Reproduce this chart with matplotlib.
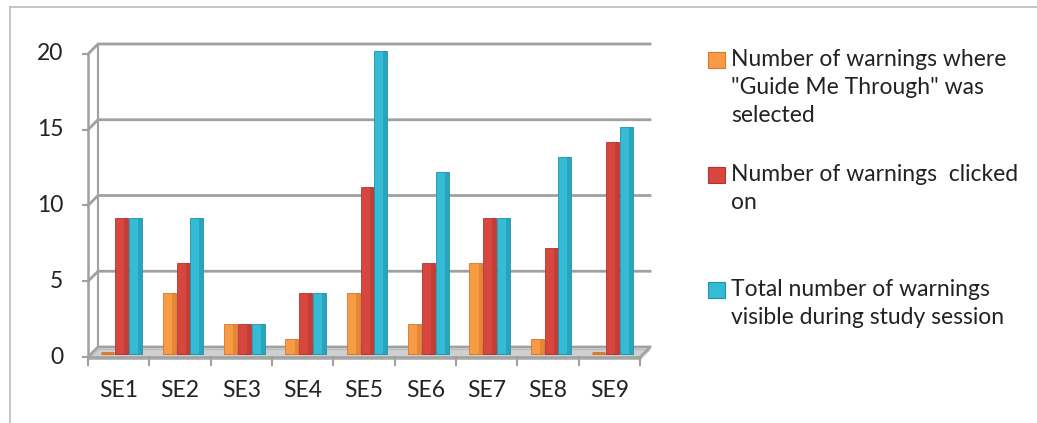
import matplotlib
matplotlib.use("Agg")
import matplotlib.pyplot as plt
import numpy as np
from matplotlib.patches import Polygon, Rectangle
from matplotlib.lines import Line2D

categories = ["SE1", "SE2", "SE3", "SE4", "SE5", "SE6", "SE7", "SE8", "SE9"]
guide_me = [0, 4, 2, 1, 4, 2, 6, 1, 0]
clicked = [9, 6, 2, 4, 11, 6, 9, 7, 14]
total = [9, 9, 2, 4, 20, 12, 9, 13, 15]
series_labels = [
    'Number of warnings where\n"Guide Me Through" was\nselected',
    "Number of warnings  clicked\non",
    "Total number of warnings\nvisible during study session",
]
yticks = [0, 5, 10, 15, 20]

colors = ["#F79B45", "#D8473F", "#36BBD5"]
dark = ["#D9772A", "#B0352F", "#1E93AB"]

plt.rcParams["font.family"] = ["Lato", "DejaVu Sans"]
FS = 16.5
W, H = 1037, 423
fig = plt.figure(figsize=(W / 100, H / 100), dpi=100)
x0, x1, ytop, ybot = 88, 640, 54, 357
ax = fig.add_axes([x0 / W, (H - ybot) / H, (x1 - x0) / W, (ybot - ytop) / H])
ax.set_xlim(0, len(categories))
ax.set_ylim(0, 20)
for s in ax.spines.values():
    s.set_visible(False)
ax.set_xticks([])
ax.set_yticks([])

n = len(categories)
dx = 10 / 61.33
dy = 10 / 15.15
grid_c = "#A0A0A0"

# floor
floor = Polygon([(0, -0.15), (n, -0.15), (n + dx, dy - 0.15), (dx, dy - 0.15)],
                closed=True, facecolor="#CFCFCF", edgecolor="#B8B8B8", lw=1,
                clip_on=False, zorder=1)
ax.add_patch(floor)

# gridlines on back wall with slanted connectors
for yv in yticks:
    ax.plot([0, dx, n + dx], [yv, yv + dy, yv + dy], color=grid_c, lw=2,
            clip_on=False, zorder=0.5)
    ax.plot([-0.08, 0], [yv, yv], color=grid_c, lw=1.5, clip_on=False)
    ax.text(-0.4, yv, str(yv), ha="right", va="center", fontsize=FS,
            color="#222222")
# back wall left edge and front axis
ax.plot([dx, dx], [dy, 20 + dy], color=grid_c, lw=1.5, clip_on=False, zorder=0.5)
ax.plot([0, 0], [0, 20], color=grid_c, lw=1.8, clip_on=False, zorder=0.6)
# floor front edge + category ticks
ax.plot([0, n], [0, 0], color=grid_c, lw=1.8, clip_on=False, zorder=1.2)
ax.plot([n, n + dx], [0, dy], color=grid_c, lw=1.5, clip_on=False, zorder=1.2)
for i in range(n + 1):
    ax.plot([i, i], [0, -0.5], color=grid_c, lw=1.5, clip_on=False)

xs = np.arange(n) + 0.5
w = 0.21
offsets = [-0.175, 0.05, 0.275]
for k, vals in enumerate([guide_me, clicked, total]):
    pos = xs + offsets[k]
    ax.bar(pos, vals, width=w, bottom=0.2, color=colors[k], edgecolor=dark[k],
           lw=0.6, zorder=3, clip_on=False)
    ax.bar(pos + w / 2, vals, width=-w * 0.3, bottom=0.2, align="edge",
           color=dark[k], lw=0, zorder=3.1, alpha=0.55, clip_on=False)
    ax.hlines([0.25] * n, pos - w / 2, pos + w / 2, color=dark[k], lw=2,
              zorder=2.9)

for i, c in enumerate(categories):
    ax.text(xs[i], -2.2, c, ha="center", va="center", fontsize=FS,
            color="#222222")

# frame of chart area
fig.add_artist(Line2D([10 / W, 10 / W], [0, 1 - 7 / H], color="#BBBBBB", lw=1.2,
                      transform=fig.transFigure))
fig.add_artist(Line2D([10 / W, 1], [1 - 7 / H, 1 - 7 / H], color="#BBBBBB", lw=1.2,
                      transform=fig.transFigure))

# legend
leg_y = [60, 175, 290]
for k in range(3):
    fig.add_artist(Rectangle((708 / W, 1 - (leg_y[k] + 8) / H), 17 / W, 16 / H,
                             facecolor=colors[k], edgecolor=dark[k], lw=0.8,
                             transform=fig.transFigure))
    fig.text(731 / W, 1 - (leg_y[k] - 11) / H, series_labels[k], ha="left",
             va="top", fontsize=FS, color="#222222", linespacing=1.42)

fig.savefig("out.png", dpi=100, facecolor="white")
